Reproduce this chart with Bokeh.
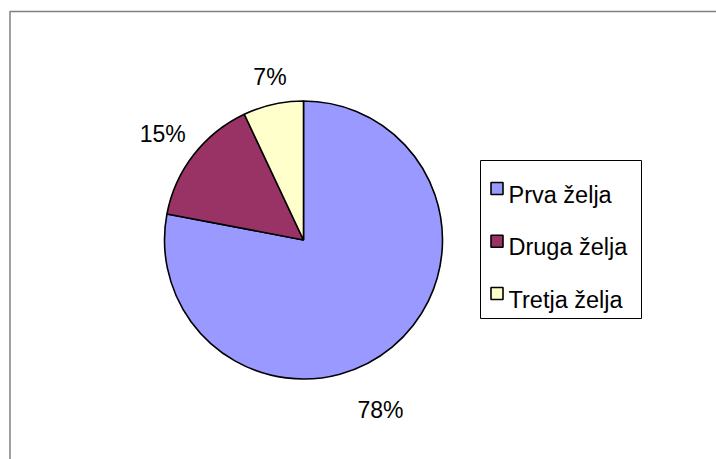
import math
from bokeh.plotting import figure
from bokeh.models import Range1d, ColumnDataSource
from bokeh.core.properties import value
from bokeh.embed import file_html
from bokeh.resources import INLINE

# ---- data ----
categories = ["Prva želja", "Druga želja", "Tretja želja"]
shares = [78, 15, 7]
colors = ["#9999FF", "#993366", "#FFFFCC"]

# ---- layout constants ----
W, H = 716, 459
CX, CY, R = 303, 219.5, 139
FONT = "Liberation Sans"
# label placement (angle offset from slice middle in degrees, distance from center)
label_offset_deg = [-15.3, 0.7, -0.95]
label_dist = [187, 176.5, 166]

p = figure(width=W, height=H, output_backend="svg", toolbar_location=None,
           x_range=Range1d(0, W), y_range=Range1d(0, H),
           x_axis_location=None, y_axis_location=None,
           min_border=0, min_border_left=0, min_border_right=0,
           min_border_top=0, min_border_bottom=0)
p.outline_line_color = None
p.grid.visible = False
p.background_fill_color = "white"
p.border_fill_color = "white"

# chart area border (top + left visible)
p.line(x=[9.5, 9.5, W], y=[0, 448, 448], line_color="#808080", line_width=1.5)

total = float(sum(shares))
starts, ends, lx, ly, texts = [], [], [], [], []
a = math.pi / 2
for i, s in enumerate(shares):
    frac = s / total
    a2 = a - frac * 2 * math.pi
    starts.append(a2)
    ends.append(a)
    mid = (a + a2) / 2 + math.radians(label_offset_deg[i])
    lx.append(CX + label_dist[i] * math.cos(mid))
    ly.append(CY + label_dist[i] * math.sin(mid))
    texts.append(f"{round(s)}%")
    a = a2

src = ColumnDataSource(dict(start=starts, end=ends, color=colors,
                            x=[CX] * 3, y=[CY] * 3))
p.wedge(x="x", y="y", radius=R, start_angle="start", end_angle="end",
        fill_color="color", line_color="black", line_width=1.6, source=src)

p.text(x=lx, y=ly, text=texts, text_font=value(FONT), text_font_size="23px",
       text_align="center", text_baseline="middle", text_color="black")

# legend
p.quad(left=480, right=641, bottom=141, top=299, fill_color="white",
       line_color="black", line_width=1)
leg_y = [265, 212.3, 160]
p.rect(x=[496.5] * 3, y=[y + 6 for y in leg_y], width=12, height=12,
       fill_color=colors, line_color="black", line_width=1.6)
p.text(x=[508] * 3, y=leg_y, text=categories, text_font=value(FONT),
       text_font_size="23.5px", text_align="left", text_baseline="alphabetic",
       text_color="black")

open("out.html", "w").write(file_html(p, INLINE))
